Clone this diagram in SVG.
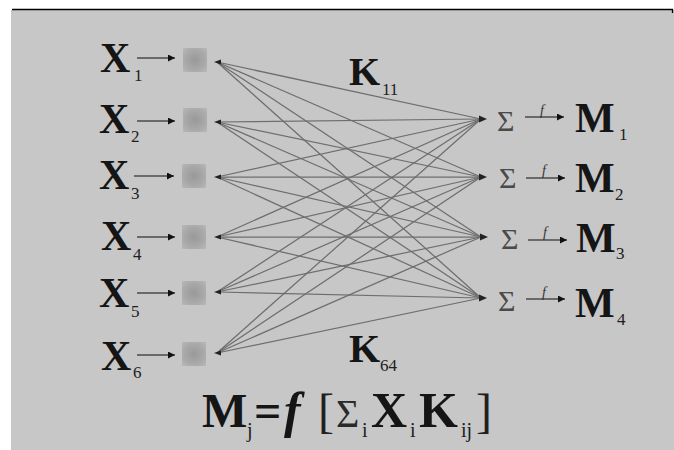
<svg xmlns="http://www.w3.org/2000/svg" width="674" height="450" viewBox="0 0 674 450">
<defs>
<style>
.lbl{font-family:"Liberation Serif","Times New Roman",serif;font-weight:bold;fill:#151515}
.sub{font-family:"Liberation Serif","Times New Roman",serif;fill:#202020}
.sig{font-family:"Liberation Serif","Times New Roman",serif;fill:#4a4a4a}
.fn{font-family:"Liberation Serif","Times New Roman",serif;font-style:italic;fill:#333}
.link{stroke:#6e6e6e;stroke-width:1.25;fill:none}
.arr{stroke:#4a4a4a;stroke-width:1.3;fill:none;marker-end:url(#ah)}
</style>
<marker id="ah" viewBox="0 0 10 10" refX="10" refY="5" markerWidth="8" markerHeight="7" markerUnits="userSpaceOnUse" orient="auto">
<path d="M0,0 L10,5 L0,10 Z" fill="#111"/>
</marker>
<radialGradient id="sq" cx="0.5" cy="0.5" r="0.72">
<stop offset="0" stop-color="#999999"/>
<stop offset="0.55" stop-color="#a8a8a8"/>
<stop offset="0.85" stop-color="#b3b3b3"/>
<stop offset="1" stop-color="#bdbdbd"/>
</radialGradient>
</defs>
<rect x="0" y="0" width="674" height="450" fill="#ffffff"/>
<rect x="11" y="10" width="663" height="440" fill="#c7c7c7"/>
<path d="M12,9.5 H672.5 V13" stroke="#000" stroke-width="1.3" fill="none"/>

<g id="connectors">
<g class="link">
<line x1="217" y1="62" x2="481" y2="119"/><line x1="217" y1="62" x2="481" y2="177"/><line x1="217" y1="62" x2="481" y2="237"/><line x1="217" y1="62" x2="481" y2="298"/>
<line x1="217" y1="122" x2="481" y2="119"/><line x1="217" y1="122" x2="481" y2="177"/><line x1="217" y1="122" x2="481" y2="237"/><line x1="217" y1="122" x2="481" y2="298"/>
<line x1="217" y1="177" x2="481" y2="119"/><line x1="217" y1="177" x2="481" y2="177"/><line x1="217" y1="177" x2="481" y2="237"/><line x1="217" y1="177" x2="481" y2="298"/>
<line x1="217" y1="237" x2="481" y2="119"/><line x1="217" y1="237" x2="481" y2="177"/><line x1="217" y1="237" x2="481" y2="237"/><line x1="217" y1="237" x2="481" y2="298"/>
<line x1="217" y1="292" x2="481" y2="119"/><line x1="217" y1="292" x2="481" y2="177"/><line x1="217" y1="292" x2="481" y2="237"/><line x1="217" y1="292" x2="481" y2="298"/>
<line x1="217" y1="353" x2="481" y2="119"/><line x1="217" y1="353" x2="481" y2="177"/><line x1="217" y1="353" x2="481" y2="237"/><line x1="217" y1="353" x2="481" y2="298"/>
</g>
<g fill="#222">
<path d="M214,62 l7,-2.5 v5 z"/><path d="M214,122 l7,-2.5 v5 z"/><path d="M214,177 l7,-2.5 v5 z"/>
<path d="M214,237 l7,-2.5 v5 z"/><path d="M214,292 l7,-2.5 v5 z"/><path d="M214,353 l7,-2.5 v5 z"/>
<path d="M487,119 l-8,-3.5 v7 z"/><path d="M487,177 l-8,-3.5 v7 z"/><path d="M488,237 l-8,-3.5 v7 z"/><path d="M487,298 l-8,-3.5 v7 z"/>
</g>
<g>
<line class="arr" x1="137" y1="58" x2="175" y2="58"/>
<line class="arr" x1="137" y1="121" x2="175" y2="121"/>
<line class="arr" x1="134" y1="176" x2="174" y2="176"/>
<line class="arr" x1="137" y1="237" x2="175" y2="237"/>
<line class="arr" x1="137" y1="293" x2="175" y2="293"/>
<line class="arr" x1="137" y1="355" x2="175" y2="355"/>
<line class="arr" x1="525" y1="117" x2="564" y2="117"/>
<line class="arr" x1="526" y1="178" x2="565" y2="178"/>
<line class="arr" x1="528" y1="240" x2="567" y2="240"/>
<line class="arr" x1="526" y1="299" x2="565" y2="299"/>
</g>
</g>

<g id="x1"><text class="lbl" x="100" y="72" font-size="42">X</text><text class="sub" x="134" y="81" font-size="17">1</text><rect x="183" y="48" width="24" height="24" fill="url(#sq)"/></g>
<g id="x2"><text class="lbl" x="99" y="133" font-size="42">X</text><text class="sub" x="131" y="142" font-size="17">2</text><rect x="183" y="108" width="24" height="24" fill="url(#sq)"/></g>
<g id="x3"><text class="lbl" x="99" y="189" font-size="42">X</text><text class="sub" x="131" y="199" font-size="17">3</text><rect x="182" y="164" width="24" height="24" fill="url(#sq)"/></g>
<g id="x4"><text class="lbl" x="101" y="250" font-size="42">X</text><text class="sub" x="133" y="260" font-size="17">4</text><rect x="182" y="225" width="24" height="24" fill="url(#sq)"/></g>
<g id="x5"><text class="lbl" x="99" y="307" font-size="42">X</text><text class="sub" x="131" y="317" font-size="17">5</text><rect x="182" y="281" width="24" height="24" fill="url(#sq)"/></g>
<g id="x6"><text class="lbl" x="101" y="370" font-size="42">X</text><text class="sub" x="133" y="378" font-size="17">6</text><rect x="182" y="342" width="24" height="24" fill="url(#sq)"/></g>

<g id="k11"><text class="lbl" x="349" y="85" font-size="40">K</text><text class="sub" x="382" y="95" font-size="17">11</text></g>
<g id="k64"><text class="lbl" x="349" y="362" font-size="40">K</text><text class="sub" x="380" y="371" font-size="17">64</text></g>

<g id="m1"><text class="sig" x="497" y="131" font-size="30">Σ</text><text class="fn" x="540" y="115" font-size="14">f</text><text class="lbl" x="575" y="132" font-size="42">M</text><text class="sub" x="619" y="140" font-size="17">1</text></g>
<g id="m2"><text class="sig" x="499" y="188" font-size="30">Σ</text><text class="fn" x="542" y="175" font-size="14">f</text><text class="lbl" x="575" y="192" font-size="42">M</text><text class="sub" x="615" y="200" font-size="17">2</text></g>
<g id="m3"><text class="sig" x="501" y="249" font-size="30">Σ</text><text class="fn" x="543" y="237" font-size="14">f</text><text class="lbl" x="576" y="252" font-size="42">M</text><text class="sub" x="616" y="259" font-size="17">3</text></g>
<g id="m4"><text class="sig" x="498" y="311" font-size="30">Σ</text><text class="fn" x="542" y="297" font-size="14">f</text><text class="lbl" x="575" y="317" font-size="42">M</text><text class="sub" x="617" y="325" font-size="17">4</text></g>

<g id="formula">
<text class="lbl" x="202" y="427" font-size="48">M</text>
<text class="sub" x="247" y="437" font-size="20">j</text>
<text class="lbl" x="254" y="427" font-size="48">=</text>
<text class="lbl" x="284" y="427" font-size="50" font-style="italic">f</text>
<text class="sub" x="318" y="427" font-size="48">[</text>
<text class="sig" x="336" y="427" font-size="40" style="fill:#2a2a2a">Σ</text>
<text class="sub" x="362" y="437" font-size="20">i</text>
<text class="lbl" x="371" y="427" font-size="50">X</text>
<text class="sub" x="410" y="437" font-size="20">i</text>
<text class="lbl" x="419" y="427" font-size="50">K</text>
<text class="sub" x="461" y="437" font-size="20">ij</text>
<text class="sub" x="476" y="427" font-size="48">]</text>
</g>
</svg>
